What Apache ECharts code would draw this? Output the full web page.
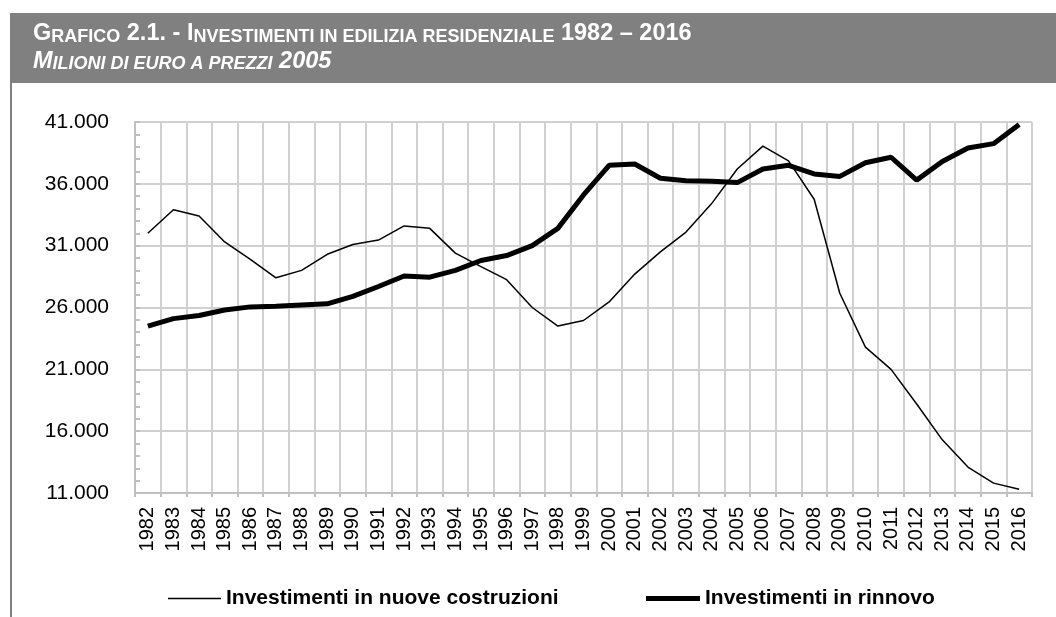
<!DOCTYPE html>
<html>
<head>
<meta charset="utf-8">
<script src="https://cdn.jsdelivr.net/npm/echarts@6/dist/echarts.min.js"></script>
<style>
  html, body { margin: 0; padding: 0; background: #fff; }
  #main { width: 1056px; height: 617px; }
</style>
</head>
<body>
<div id="main"></div>
<script>
// anni sull'asse x
var anni = ['1982', '1983', '1984', '1985', '1986', '1987', '1988', '1989', '1990', '1991',
  '1992', '1993', '1994', '1995', '1996', '1997', '1998', '1999', '2000', '2001',
  '2002', '2003', '2004', '2005', '2006', '2007', '2008', '2009', '2010', '2011',
  '2012', '2013', '2014', '2015', '2016']

// milioni di euro a prezzi 2005
var nuoveCostruzioni = [32000, 33900, 33400, 31300, 29900, 28400, 29000, 30300, 31100, 31450,
  32600, 32400, 30400, 29300, 28250, 26000, 24500, 24950, 26450, 28700,
  30500, 32100, 34400, 37200, 39050, 37850, 34750, 27150, 22800, 21000,
  18200, 15300, 13100, 11800, 11300]
var rinnovo = [24500, 25100, 25350, 25800, 26050, 26100, 26200, 26300, 26900, 27700,
  28550, 28450, 29000, 29800, 30200, 31000, 32400, 35100, 37500, 37600,
  36450, 36250, 36200, 36100, 37200, 37500, 36800, 36600, 37700, 38150,
  36300, 37800, 38900, 39250, 40800]

var nomi = ['Investimenti in nuove costruzioni', 'Investimenti in rinnovo']

var font = 'Liberation Sans, Arial, sans-serif'

function formatIt(v) {
  return String(v).replace(/\B(?=(\d{3})+(?!\d))/g, '.')
}

var chart = echarts.init(document.getElementById('main'))

// stile maiuscoletto per il titolo
var big = { fontSize: 23.5, fontWeight: 'bold', fill: '#fff', fontFamily: font, lineHeight: 24, verticalAlign: 'bottom' }
var small = { fontSize: 18, fontWeight: 'bold', fill: '#fff', fontFamily: font, lineHeight: 18.5, verticalAlign: 'bottom' }
var bigI = Object.assign({}, big, { fontStyle: 'italic' })
var smallI = Object.assign({}, small, { fontStyle: 'italic' })

var legendText = { fontFamily: font, fontSize: 21, fontWeight: 'bold', color: '#000' }

var option = {
  animation: false,
  backgroundColor: '#fff',
  graphic: [
    { type: 'rect', shape: { x: 10, y: 13, width: 1046, height: 70 }, style: { fill: '#808080' } },
    { type: 'rect', shape: { x: 10, y: 83, width: 2, height: 534 }, style: { fill: '#808080' } },
    {
      type: 'text', x: 33, y: 22,
      style: {
        text: '{b|G}{s|RAFICO}{b| 2.1. - I}{s|NVESTIMENTI IN EDILIZIA RESIDENZIALE}{b| 1982 – 2016}',
        rich: { b: big, s: small }
      }
    },
    {
      type: 'text', x: 33, y: 49,
      style: {
        text: '{b|M}{s|ILIONI DI EURO A PREZZI}{b| 2005}',
        rich: { b: bigI, s: smallI }
      }
    }
  ],
  grid: { left: 135, right: 24, top: 122, bottom: 124 },
  legend: [
    {
      data: [{ name: nomi[0], icon: 'rect' }], left: 168, top: 588, padding: 0,
      itemWidth: 53, itemHeight: 1.5, itemGap: 0,
      itemStyle: { color: '#000' },
      textStyle: legendText
    },
    {
      data: [{ name: nomi[1], icon: 'rect' }], left: 646, top: 588, padding: 0,
      itemWidth: 54, itemHeight: 5, itemGap: 0,
      itemStyle: { color: '#000' },
      textStyle: legendText
    }
  ],
  xAxis: {
    type: 'category',
    data: anni,
    boundaryGap: true,
    axisLine: { show: true, lineStyle: { color: '#bfbfbf', width: 2 } },
    axisTick: { show: true, length: 4, lineStyle: { color: '#bfbfbf', width: 2 } },
    axisLabel: { interval: 0, rotate: 90, margin: 14, fontFamily: font, fontSize: 20, color: '#000' },
    splitLine: { show: true, lineStyle: { color: '#d0d0d0', width: 2 } }
  },
  yAxis: {
    type: 'value',
    min: 11000, max: 41000, interval: 5000,
    axisLine: { show: true, lineStyle: { color: '#bfbfbf', width: 2 } },
    axisTick: { show: true, inside: true, length: 5, lineStyle: { color: '#bfbfbf', width: 2 } },
    minorTick: { show: true, splitNumber: 5, length: 5, lineStyle: { color: '#bfbfbf', width: 2 } },
    axisLabel: { margin: 26, fontFamily: font, fontSize: 21, color: '#000', formatter: formatIt },
    splitLine: { show: true, lineStyle: { color: '#d0d0d0', width: 2 } }
  },
  series: [
    {
      name: nomi[0], type: 'line', data: nuoveCostruzioni,
      symbol: 'none', lineStyle: { color: '#000', width: 1.5 }, itemStyle: { color: '#000' }
    },
    {
      name: nomi[1], type: 'line', data: rinnovo,
      symbol: 'none', lineStyle: { color: '#000', width: 5 }, itemStyle: { color: '#000' }
    }
  ]
}

chart.setOption(option)
</script>
</body>
</html>
